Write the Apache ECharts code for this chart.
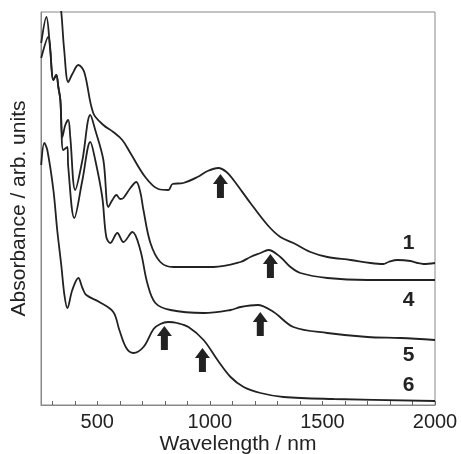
<!DOCTYPE html>
<html>
<head>
<meta charset="utf-8">
<script src="https://cdn.jsdelivr.net/npm/echarts@6/dist/echarts.min.js"></script>
<style>
  html, body { margin: 0; padding: 0; background: #fff; }
  #chart { width: 461px; height: 454px; }
</style>
</head>
<body>
<div id="chart"></div>
<script>
// spectra, [wavelength nm, absorbance arb. units]
var curve1 = [
  [327, 415], [340, 393], [353, 355], [371, 323], [389, 331], [416, 340], [442, 333],
  [482, 292], [527, 280], [571, 273], [611, 265], [647, 252], [713, 228], [771, 216],
  [816, 215], [834, 221], [882, 222], [945, 228], [990, 234], [1038, 237], [1074, 233],
  [1105, 225], [1180, 202], [1256, 180], [1313, 168], [1371, 162], [1447, 153],
  [1522, 148], [1625, 145], [1714, 142], [1771, 141], [1793, 143], [1833, 145],
  [1891, 144], [1922, 142], [1949, 141], [2000, 142]
];
var curve4 = [
  [251, 362], [274, 388], [291, 355], [305, 325], [318, 330], [327, 318], [336, 305],
  [345, 268], [358, 280], [371, 285], [380, 268], [402, 215], [434, 245], [469, 290],
  [491, 275], [527, 245], [549, 198], [567, 205], [585, 210], [602, 206], [616, 207],
  [647, 217], [673, 223], [691, 213], [705, 195], [736, 162], [780, 143], [838, 138],
  [1016, 138], [1136, 143], [1180, 148], [1225, 152], [1260, 155], [1313, 148],
  [1358, 138], [1402, 132], [1522, 127], [1700, 125], [2000, 125]
];
var curve5 = [
  [251, 347], [282, 368], [305, 325], [318, 330], [327, 318], [336, 305], [349, 255],
  [367, 258], [371, 238], [398, 187], [434, 225], [469, 263], [491, 245], [522, 208],
  [540, 168], [558, 162], [589, 172], [616, 163], [656, 173], [691, 155], [722, 122],
  [758, 102], [825, 95], [972, 92], [1092, 95], [1136, 98], [1212, 100], [1283, 93],
  [1371, 78], [1522, 72], [1700, 68], [1847, 67], [2000, 65]
];
var curve6 = [
  [251, 240], [265, 262], [278, 255], [305, 215], [322, 175], [340, 140], [354, 110],
  [367, 97], [389, 115], [416, 127], [434, 117], [451, 110], [509, 103], [571, 93],
  [598, 75], [629, 57], [660, 52], [705, 58], [750, 76], [780, 81], [815, 83],
  [855, 82], [905, 78], [972, 65], [1034, 45], [1092, 28], [1150, 18], [1225, 12],
  [1327, 8], [1550, 6], [2000, 4]
];
var arrows = [[1047, 219], [1269, 139], [1224, 81], [798, 67], [967, 45]];
var curveLabels = [[1883, 162, '1'], [1883, 105, '4'], [1883, 50, '5'], [1883, 20, '6']];
var tickValues = [300, 400, 500, 600, 700, 800, 900, 1000, 1100, 1200, 1300, 1400,
  1500, 1600, 1700, 1800, 1900, 2000];
var labelValues = [500, 1000, 1500, 2000];

var ink = '#222';
var font = 'Liberation Sans, Arial, sans-serif';

function lineSeries(data) {
  return {
    type: 'line', data: data, smooth: 0.35, symbol: 'none', clip: true,
    lineStyle: { color: ink, width: 1.8 }
  };
}

var chart = echarts.init(document.getElementById('chart'));
chart.setOption({
  animation: false,
  grid: {
    left: 41, right: 26, top: 12, bottom: 49, outerBoundsMode: 'none', containLabel: false,
    show: true, borderColor: '#888', borderWidth: 1
  },
  xAxis: {
    type: 'value', min: 250, max: 2000,
    name: 'Wavelength / nm', nameLocation: 'middle', nameGap: 29, nameMoveOverlap: false,
    nameTextStyle: { fontFamily: font, fontSize: 21, color: ink },
    axisLine: { show: true, lineStyle: { color: '#888' } },
    axisTick: { show: true, inside: true, length: 4, customValues: tickValues, lineStyle: { color: '#666' } },
    axisLabel: {
      customValues: labelValues, margin: 7, fontFamily: font, fontSize: 20, color: ink,
      formatter: function (v) { return String(v); }
    },
    splitLine: { show: false }
  },
  yAxis: {
    type: 'value', min: 0, max: 393,
    name: 'Absorbance / arb. units', nameLocation: 'middle', nameGap: 11,
    nameTextStyle: { fontFamily: font, fontSize: 21, color: ink },
    axisLine: { show: true, lineStyle: { color: '#888' } },
    axisTick: { show: false }, axisLabel: { show: false }, splitLine: { show: false }
  },
  series: [
    lineSeries(curve1), lineSeries(curve4), lineSeries(curve5), lineSeries(curve6),
    {
      type: 'scatter', data: arrows, symbolSize: [15, 24],
      symbol: 'path://M7.5,0 L15,10 L11,10 L11,24 L4,24 L4,10 L0,10 Z',
      itemStyle: { color: ink, opacity: 1 }
    },
    {
      type: 'scatter', data: curveLabels, symbolSize: 0,
      itemStyle: { opacity: 1 },
      label: {
        show: true, position: 'inside', formatter: function (p) { return p.value[2]; },
        fontFamily: font, fontSize: 21, fontWeight: 'bold', color: ink
      }
    }
  ]
});
</script>
</body>
</html>
